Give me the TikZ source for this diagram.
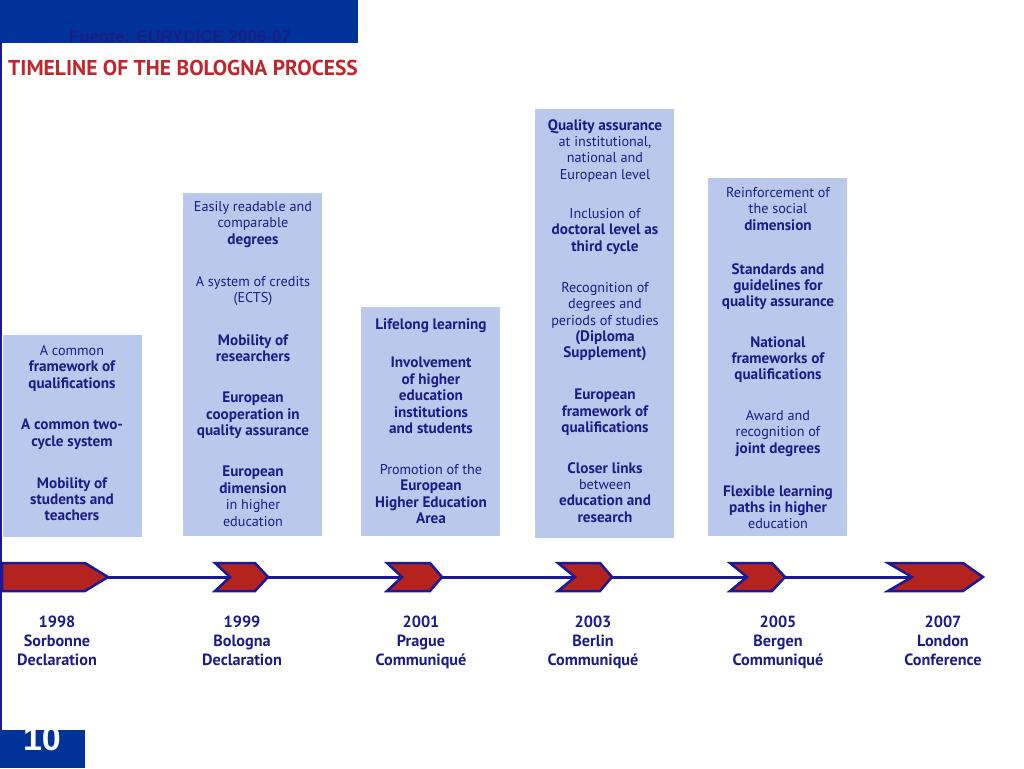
\documentclass[tikz,border=0pt]{standalone}
\usepackage{fontspec}
\setmainfont{PT Sans}
\newfontfamily\arialf{Liberation Sans}
\newcommand\bw{\bfseries\fontsize{15.2}{16.4}\selectfont}
\definecolor{hdrblue}{RGB}{0,51,153}
\definecolor{navy}{RGB}{28,28,135}
\definecolor{linenavy}{RGB}{26,26,150}
\definecolor{boxblue}{RGB}{185,201,235}
\definecolor{arrred}{RGB}{180,35,30}
\definecolor{titlered}{RGB}{192,39,45}
\tikzset{
  box/.style={fill=boxblue, draw=none, inner sep=0pt, anchor=north west},
  itm/.style={anchor=north, align=center, inner sep=0pt, yshift=8pt, text=navy,
    font=\fontsize{14.2}{16.4}\selectfont, execute at begin node={\rule{0pt}{12pt}}},
  lbl/.style={anchor=north, align=center, inner sep=0pt, yshift=9pt, text=navy,
    font=\bfseries\fontsize{16.2}{19}\selectfont, execute at begin node={\rule{0pt}{13pt}}},
  chev/.style={fill=arrred, draw=linenavy, line width=2.5pt, line join=miter},
  tline/.style={draw=linenavy, line width=3pt}
}
\begin{document}
\begin{tikzpicture}[x=1pt,y=-1pt]
\useasboundingbox (0,0) rectangle (1024,768);
\fill[white] (0,0) rectangle (1024,768);
% header
\node[box, fill=hdrblue, minimum width=358pt, minimum height=43pt] (hdr) at (0,0) {};
\node[anchor=base, inner sep=0pt, text=navy, font=\arialf\bfseries\fontsize{17}{17}\selectfont] (src) at (180,42) {Fuente: EURYDICE 2006-07};
\fill[linenavy] (0,43) rectangle (2,730);
\node[anchor=base west, inner sep=0pt, text=titlered, font=\bfseries\fontsize{21.5}{21.5}\selectfont] (title) at (8,75) {TIMELINE OF THE BOLOGNA PROCESS};
% page number
\node[box, fill=hdrblue, minimum width=85pt, minimum height=38pt] (pg) at (0,730) {};
\begin{scope}
\clip (0,730) rectangle (85,768);
\node[anchor=base, inner sep=0pt, text=white, font=\arialf\bfseries\fontsize{34}{34}\selectfont] (pgn) at (42,750) {10};
\end{scope}
% boxes
\node[box, minimum width=139pt, minimum height=202pt] (B1) at (3,335) {};
\node[box, minimum width=139pt, minimum height=343pt] (B2) at (183,193) {};
\node[box, minimum width=139pt, minimum height=229pt] (B3) at (361,307) {};
\node[box, minimum width=139pt, minimum height=429pt] (B4) at (535,109) {};
\node[box, minimum width=139pt, minimum height=358pt] (B5) at (708,178) {};
% box 1
\node[itm] (b1a) at (72,353) {A common\\\bw framework of\\\bw qualifications};
\node[itm] (b1b) at (72,427) {\bw A common two-\\\bw cycle system};
\node[itm] (b1c) at (72,485) {\bw Mobility of\\\bw students and\\\bw teachers};
% box 2
\node[itm] (b2a) at (253,209) {Easily readable and\\comparable\\\bw degrees};
\node[itm] (b2b) at (253,284) {A system of credits\\(ECTS)};
\node[itm] (b2c) at (253,342) {\bw Mobility of\\\bw researchers};
\node[itm] (b2d) at (253,400) {\bw European\\\bw cooperation in\\\bw quality assurance};
\node[itm] (b2e) at (253,474) {\bw European\\\bw dimension\\in higher\\education};
% box 3
\node[itm] (b3a) at (431,325) {\bw Lifelong learning};
\node[itm] (b3b) at (431,365) {\bw Involvement\\\bw of higher\\\bw education\\\bw institutions\\\bw and students};
\node[itm] (b3c) at (431,472) {Promotion of the\\\bw European\\\bw Higher Education\\\bw Area};
% box 4
\node[itm] (b4a) at (605,127) {\bw Quality assurance\\at institutional,\\national and\\European level};
\node[itm] (b4b) at (605,216) {Inclusion of\\\bw doctoral level as\\\bw third cycle};
\node[itm] (b4c) at (605,290) {Recognition of\\degrees and\\periods of studies\\\bw (Diploma\\\bw Supplement)};
\node[itm] (b4d) at (605,397) {\bw European\\\bw framework of\\\bw qualifications};
\node[itm] (b4e) at (605,470) {\bw Closer links\\between\\\bw education and\\\bw research};
% box 5
\node[itm] (b5a) at (778,195) {Reinforcement of\\the social\\\bw dimension};
\node[itm] (b5b) at (778,271) {\bw Standards and\\\bw guidelines for\\\bw quality assurance};
\node[itm] (b5c) at (778,344) {\bw National\\\bw frameworks of\\\bw qualifications};
\node[itm] (b5d) at (778,418) {Award and\\recognition of\\\bw joint degrees};
\node[itm] (b5e) at (778,493) {\bw Flexible learning\\\bw paths in higher\\education};
% timeline coordinates
\coordinate (t1) at (108,577);
\coordinate (n2) at (230,577); \coordinate (t2) at (268,577);
\coordinate (n3) at (402,577); \coordinate (t3) at (442,577);
\coordinate (n4) at (575,577); \coordinate (t4) at (612,577);
\coordinate (n5) at (747,577); \coordinate (t5) at (785,577);
\coordinate (n6) at (912,577);
\draw[tline] (t1) -- (n2);
\draw[tline] (t2) -- (n3);
\draw[tline] (t3) -- (n4);
\draw[tline] (t4) -- (n5);
\draw[tline] (t5) -- (n6);
% arrows
\draw[chev] (2,563) -- (85,563) -- (t1) -- (85,591) -- (2,591) -- cycle;
\draw[chev] (215,563) -- (255,563) -- (t2) -- (255,591) -- (215,591) -- (n2) -- cycle;
\draw[chev] (387,563) -- (430,563) -- (t3) -- (430,591) -- (387,591) -- (n3) -- cycle;
\draw[chev] (558,563) -- (600,563) -- (t4) -- (600,591) -- (558,591) -- (n4) -- cycle;
\draw[chev] (730,563) -- (772,563) -- (t5) -- (772,591) -- (730,591) -- (n5) -- cycle;
\draw[chev] (888,563) -- (963,563) -- (983,577) -- (963,591) -- (888,591) -- (n6) -- cycle;
% labels
\node[lbl] (l1) at (57,625) {1998\\Sorbonne\\Declaration};
\node[lbl] (l2) at (242,625) {1999\\Bologna\\Declaration};
\node[lbl] (l3) at (421,625) {2001\\Prague\\Communiqué};
\node[lbl] (l4) at (593,625) {2003\\Berlin\\Communiqué};
\node[lbl] (l5) at (778,625) {2005\\Bergen\\Communiqué};
\node[lbl] (l6) at (943,625) {2007\\London\\Conference};
\end{tikzpicture}
\end{document}
